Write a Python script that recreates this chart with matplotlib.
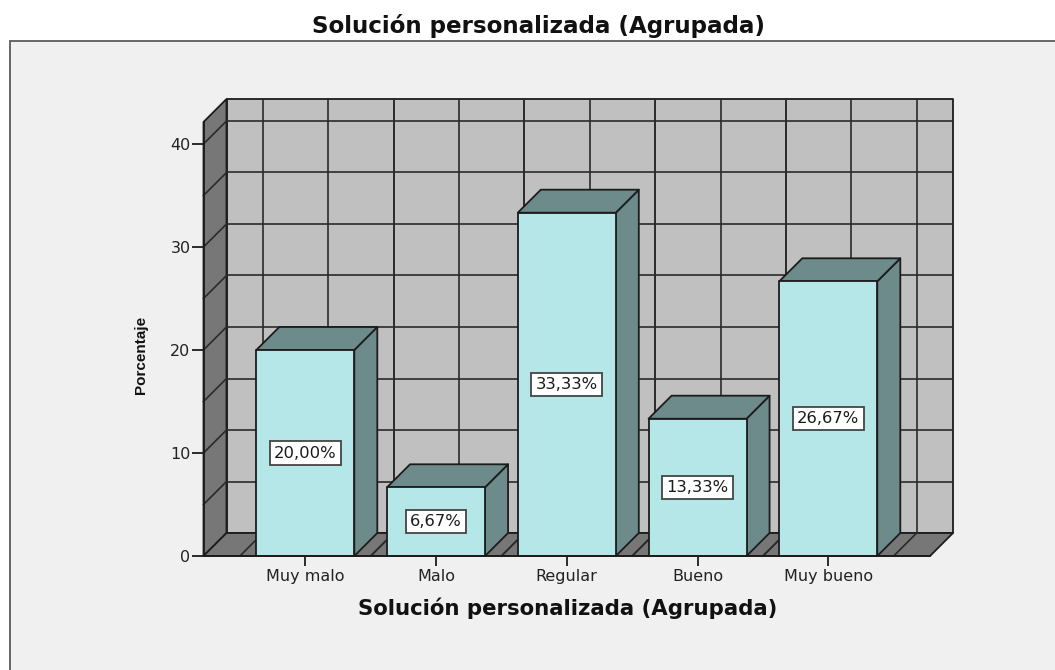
import matplotlib
matplotlib.use("Agg")
import matplotlib.pyplot as plt
from matplotlib.patches import Polygon, Rectangle
from matplotlib.lines import Line2D

categories = ["Muy malo", "Malo", "Regular", "Bueno", "Muy bueno"]
values = [20.00, 6.67, 33.33, 13.33, 26.67]
value_labels = ["20,00%", "6,67%", "33,33%", "13,33%", "26,67%"]
y_ticks = [0, 10, 20, 30, 40]
y_grid = [0, 5, 10, 15, 20, 25, 30, 35, 40]
title_text = "Solución personalizada (Agrupada)"
ylabel_text = "Porcentaje"

W, H = 1055, 670
PX_X = 130.75      # pixels per category
PX_Y = 10.3        # pixels per percent
LEFT, RIGHT, BASE, TOP = 203.5, 930.0, 556.0, 122.0
DEPTH = 23.0

fig = plt.figure(figsize=(W / 100, H / 100), dpi=100, facecolor="white")
fig.patches.append(Rectangle((10 / W, 0), 1 - 10 / W, (H - 41) / H, transform=fig.transFigure,
                             facecolor="#f0f0f0", edgecolor="none", zorder=-5))
fig.add_artist(Line2D([10 / W, 10 / W, 1], [0, (H - 41) / H, (H - 41) / H], color="#666666", lw=1.4,
                      solid_joinstyle="miter"))

ax = fig.add_axes([LEFT / W, (H - BASE) / H, (RIGHT - LEFT) / W, (BASE - TOP) / H])
ax.patch.set_visible(False)
xmin = (LEFT - 305.3) / PX_X
xmax = (RIGHT - 305.3) / PX_X
ymax = (BASE - TOP) / PX_Y
ax.set_xlim(xmin, xmax)
ax.set_ylim(0, ymax)
dx, dy = DEPTH / PX_X, DEPTH / PX_Y

EDGE = "#1c1c1c"
LW = 1.3
GRID_LW = 1.2
WALL = "#c0c0c0"
SHADE = "#777777"
FRONT = "#b5e6e8"
SIDE = "#6e8b8c"
bar_w = 98 / PX_X


def poly(pts, fc, z):
    ax.add_patch(Polygon(pts, closed=True, facecolor=fc, edgecolor=EDGE, lw=LW, zorder=z,
                         clip_on=False, joinstyle="round"))


def line(xs, ys, z=2):
    ax.add_line(Line2D(xs, ys, color="#2a2a2a", lw=GRID_LW, zorder=z, clip_on=False))


# back wall, left wall, floor
poly([(xmin + dx, dy), (xmax + dx, dy), (xmax + dx, ymax + dy), (xmin + dx, ymax + dy)], WALL, 1)
poly([(xmin, 0), (xmin + dx, dy), (xmin + dx, ymax + dy), (xmin, ymax)], SHADE, 1)
poly([(xmin, 0), (xmax, 0), (xmax + dx, dy), (xmin + dx, dy)], SHADE, 1)

# gridlines
for v in y_grid[1:]:
    line([xmin + dx, xmax + dx], [v + dy, v + dy])
    line([xmin, xmin + dx], [v, v + dy])
for i in range(len(categories)):
    for g in (i - 0.5, i, i + 0.5):
        line([g + dx, g + dx], [dy, ymax + dy])
        line([g, g + dx], [0, dy])

# bars
for i, (v, lab) in enumerate(zip(values, value_labels)):
    x0, x1 = i - bar_w / 2, i + bar_w / 2
    z = 5
    poly([(x1, 0), (x1 + dx, dy), (x1 + dx, v + dy), (x1, v)], SIDE, z)
    poly([(x0, v), (x1, v), (x1 + dx, v + dy), (x0 + dx, v + dy)], SIDE, z)
    poly([(x0, 0), (x1, 0), (x1, v), (x0, v)], FRONT, z + 0.1)
    ax.text(i, v / 2, lab, ha="center", va="center", fontsize=11.8, color="#1a1a1a", zorder=7,
            family="DejaVu Sans",
            bbox=dict(boxstyle="square,pad=0.26", facecolor="white", edgecolor="#444444", lw=1.3))

# axes
for s in ("top", "right"):
    ax.spines[s].set_visible(False)
for s in ("left", "bottom"):
    ax.spines[s].set_color(EDGE)
    ax.spines[s].set_linewidth(LW)
    ax.spines[s].set_zorder(6)
ax.set_xticks(range(len(categories)))
ax.set_xticklabels(categories)
ax.set_yticks(y_ticks)
ax.tick_params(axis="x", length=7.2, width=LW, color=EDGE, labelsize=11.5, labelcolor="#222222", pad=2.5)
ax.tick_params(axis="y", length=8.4, width=LW, color=EDGE, labelsize=11.5, labelcolor="#222222", pad=1)

# text
fig.text(539 / W, 1 - 26 / H, title_text, ha="center", va="center", family="DejaVu Sans",
         fontweight="bold", fontsize=16.6, color="#111111")
fig.text(568 / W, 1 - 608 / H, title_text, ha="center", va="center", family="DejaVu Sans",
         fontweight="bold", fontsize=15.3, color="#111111")
fig.text(141 / W, 1 - 355 / H, ylabel_text, ha="center", va="center", rotation=90,
         family="Liberation Sans", fontweight="bold", fontsize=11, color="#111111")

fig.savefig("out.png", dpi=100)
